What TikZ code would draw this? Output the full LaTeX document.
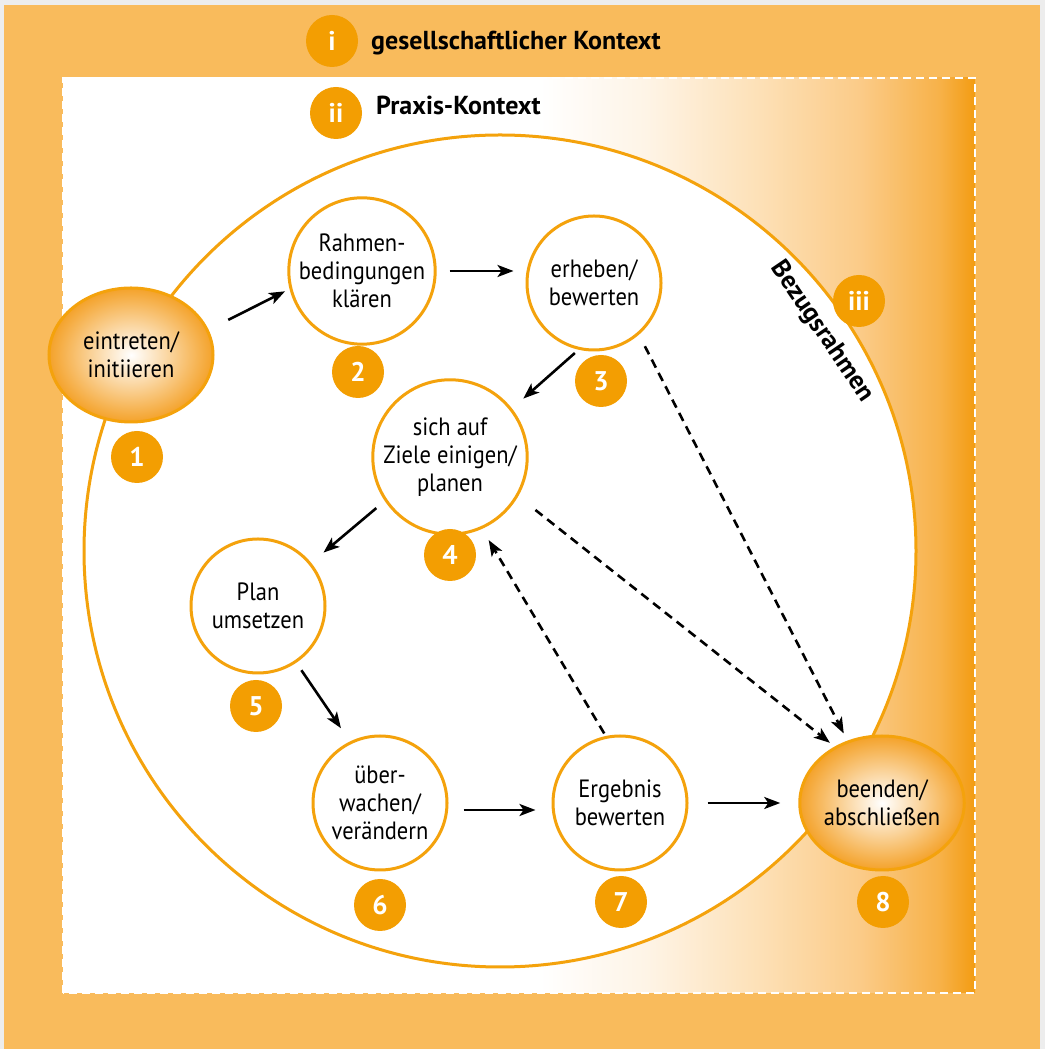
\documentclass[tikz,border=0pt]{standalone}
\usepackage{fontspec}
\setmainfont{PT Sans}[FakeStretch=0.9]
\newfontfamily\titlefont{PT Sans}
\usetikzlibrary{arrows.meta,shapes.geometric,calc}
\definecolor{ctxframe}{HTML}{EDEDED}
\definecolor{ctxbg}{HTML}{F9BB5C}
\definecolor{ctxbadge}{HTML}{F39E02}
\definecolor{ctxline}{HTML}{F4A20C}
\definecolor{fadeA}{HTML}{FEF4E6}
\definecolor{fadeB}{HTML}{FDE1B8}
\definecolor{fadeC}{HTML}{FBCB88}
\definecolor{fadeD}{HTML}{F7B24A}
\definecolor{fadeE}{HTML}{F39C12}
\definecolor{glowmid}{HTML}{FAD39A}
\definecolor{glowedge}{HTML}{F4A22A}
\pgfdeclarehorizontalshading{praxisfade}{100bp}{color(0bp)=(white); color(51bp)=(white);
  color(57bp)=(fadeA); color(63bp)=(fadeB); color(68.7bp)=(fadeC); color(73bp)=(fadeD);
  color(75bp)=(fadeE); color(100bp)=(fadeE)}
\pgfdeclareradialshading{stepglow}{\pgfpoint{0bp}{0bp}}{color(0bp)=(white); color(12bp)=(glowmid);
  color(25bp)=(glowedge); color(50bp)=(glowedge)}

\begin{document}
\begin{tikzpicture}[x=1pt,y=1pt]
  \tikzset{
    stepnode/.style={circle, draw=ctxline, line width=3pt, fill=white, minimum size=134pt,
      inner sep=0pt, align=center, font=\fontsize{25}{28}\selectfont},
    endnode/.style={ellipse, draw=ctxline, line width=3pt, shading=stepglow, minimum width=164pt,
      minimum height=134pt, inner sep=0pt, align=center, font=\fontsize{25}{28}\selectfont},
    badge/.style={circle, fill=ctxbadge, minimum size=52pt, inner sep=0pt, text=white,
      font=\titlefont\bfseries\fontsize{27}{30}\selectfont},
    title/.style={anchor=base west, inner sep=0pt, font=\titlefont\bfseries\fontsize{26}{30}\selectfont},
    flow/.style={-{Stealth[length=16pt,width=12pt,inset=4pt]}, line width=2.6pt},
    shortcut/.style={flow, dash pattern=on 9pt off 6pt}
  }
  \useasboundingbox (0,0) rectangle (1045,1049);
  \fill[ctxframe] (0,0) rectangle (1045,1049);
  \fill[ctxbg] (4,0) rectangle (1040,1044);

  % praxis frame
  \shade[shading=praxisfade] (63,56) rectangle (975,971);
  \draw[white, line width=2pt, dash pattern=on 8pt off 5pt] (63,56) rectangle (975,971);

  % reference frame
  \draw[ctxline, line width=3pt, fill=white] (500,498) circle[radius=416];
  \node[title, anchor=base, rotate=-55.75] (tiii) at ($(500,498)+(34.25:383)$) {Bezugsrahmen};

  \node[badge] (bi) at (332,1008) {i};
  \node[title] (ti) at (371,999) {gesellschaftlicher Kontext};
  \node[badge] (bii) at (336,936) {ii};
  \node[title] (tii) at (376,934) {Praxis-Kontext};
  \node[badge] (biii) at (859,748) {iii};

  \node[endnode] (n1) at (131,694) {eintreten/\\initiieren};
  \node[stepnode] (n2) at (362,778) {Rahmen-\\bedingungen\\klären};
  \node[stepnode] (n3) at (594,766) {erheben/\\bewerten};
  \node[stepnode] (n4) at (450,592) {sich auf\\Ziele einigen/\\planen};
  \node[stepnode] (n5) at (258,443) {Plan\\umsetzen};
  \node[stepnode] (n6) at (380,246) {über-\\wachen/\\verändern};
  \node[stepnode] (n7) at (620,246) {Ergebnis\\bewerten};
  \node[endnode] (n8) at (882,246) {beenden/\\abschließen};

  \foreach \k/\x/\y in {1/137/592, 2/358/677, 3/601/668, 4/450/494,
      5/256/343, 6/380/144, 7/621/147, 8/883/147}
    \node[badge] (b\k) at (\x,\y) {\k};

  \draw[flow, shorten <=22pt, shorten >=5pt] (n1.18) -- (n2.194);
  \draw[flow, shorten <=13pt, shorten >=12pt] (n2.east) -- (n2.east -| n3.west);
  \draw[flow, shorten <=5pt, shorten >=15pt] (n3.257) -- (n4.38);
  \draw[flow, shorten <=11pt, shorten >=16pt] (n4.214) -- (n5.39);
  \draw[flow, shorten <=9pt, shorten >=16pt] (n5.304) -- (n6.116);
  \draw[flow, shorten <=15pt, shorten >=16pt] ([yshift=-7pt]n6.east) -- ([yshift=-7pt]n7.west);
  \draw[flow, shorten <=19pt, shorten >=18pt] (n7.east) -- (n8.west);
  \draw[shortcut, shorten <=13pt, shorten >=8pt] (n3.311) -- (n8.119);
  \draw[shortcut, shorten <=22pt, shorten >=6pt] (n4.330) -- (n8.130);
  \draw[shortcut, shorten <=3pt, shorten >=13pt] (n7.102) -- (n4.294);
\end{tikzpicture}
\end{document}
